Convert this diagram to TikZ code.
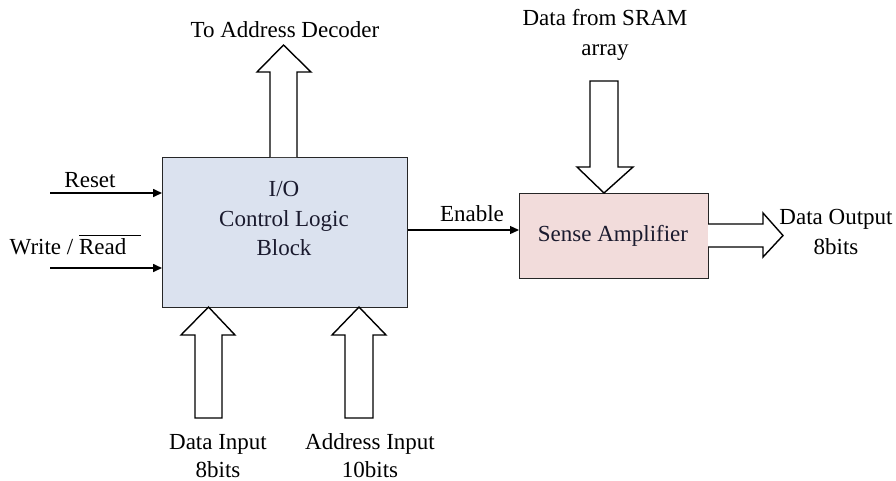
\documentclass[tikz,border=0pt]{standalone}
\usepackage{fontspec}
\setmainfont{Liberation Serif}
\usetikzlibrary{arrows.meta}
\definecolor{blockblue}{HTML}{DBE2EF}
\definecolor{blockpink}{HTML}{F2DCDB}
\definecolor{inktext}{HTML}{1A1A2E}
\tikzset{
  lbl/.style={inner sep=0pt, font=\fontsize{23}{28}\selectfont, align=center},
  unit/.style={draw=black!85, line width=1.3pt, inner sep=0pt},
  hollow/.style={draw=black, line width=1.4pt, fill=white, line join=miter},
  sig/.style={line width=1.6pt, -{Triangle[length=9pt,width=8pt]}},
}
\begin{document}
\begin{tikzpicture}[x=1pt,y=-1pt]
\useasboundingbox (0,0) rectangle (896,480);

% functional blocks
\node[unit, fill=blockblue, minimum width=245pt, minimum height=150pt,
      anchor=north west] (io) at (162,157) {};
\node[lbl, text=inktext] (iotext) at (284,218) {I/O\\[2pt]Control Logic\\[1pt]Block};
\node[unit, fill=blockpink, minimum width=189pt, minimum height=85pt,
      anchor=north west] (sa) at (519,193) {};
\node[lbl, text=inktext] (satext) at (613,236) {Sense Amplifier};

% single-line control inputs
\coordinate (rst) at (50,193);
\coordinate (wr) at (50,268);
\draw[sig] (rst) -- (rst -| io.west);
\draw[sig] (wr) -- (wr -| io.west);
\node[lbl] (rstlbl) at (90,180) {Reset};
\node[lbl] (wrlbl) at (68,245) {Write / \makebox[0pt][l]{\rule[18pt]{62pt}{1.2pt}}Read};

% enable line between the blocks
\coordinate (en) at (io.east |- 0,230);
\draw[line width=1.3pt, -{Triangle[length=9pt,width=8pt]}] (en) -- (en -| sa.west);
\node[lbl] (enlbl) at (472,214) {Enable};

% bus arrows
% to address decoder (up, out of the control block)
\draw[hollow] (270,157) -- (270,72) -- (257,72) -- (283.5,45) -- (311,72)
  -- (297,72) -- (297,157);
\node[lbl] (declbl) at (285,30) {To Address Decoder};

% data from SRAM array (down, into the sense amplifier)
\draw[hollow] (590,81) -- (618,81) -- (618,167) -- (633,167) -- (604,193)
  -- (577,167) -- (590,167) -- cycle;
\node[lbl] (sramlbl) at (605,35) {Data from SRAM\\[2pt]array};

% data output (right, out of the sense amplifier)
\draw[hollow] (708,224) -- (763,224) -- (763,213) -- (783,235.5) -- (763,257)
  -- (763,247) -- (708,247);
\node[lbl] (outlbl) at (836,232) {Data Output\\[2pt]8bits};

% data input (up, into the control block)
\draw[hollow] (195,418) -- (195,335) -- (181,335) -- (208.5,307) -- (235,335)
  -- (222,335) -- (222,418) -- cycle;
\node[lbl] (dinlbl) at (218,456) {Data Input\\8bits};

% address input (up, into the control block)
\draw[hollow] (345,418) -- (345,335) -- (332,335) -- (359,307) -- (386,335)
  -- (373,335) -- (373,418) -- cycle;
\node[lbl] (ainlbl) at (370,456) {Address Input\\10bits};
\end{tikzpicture}
\end{document}
